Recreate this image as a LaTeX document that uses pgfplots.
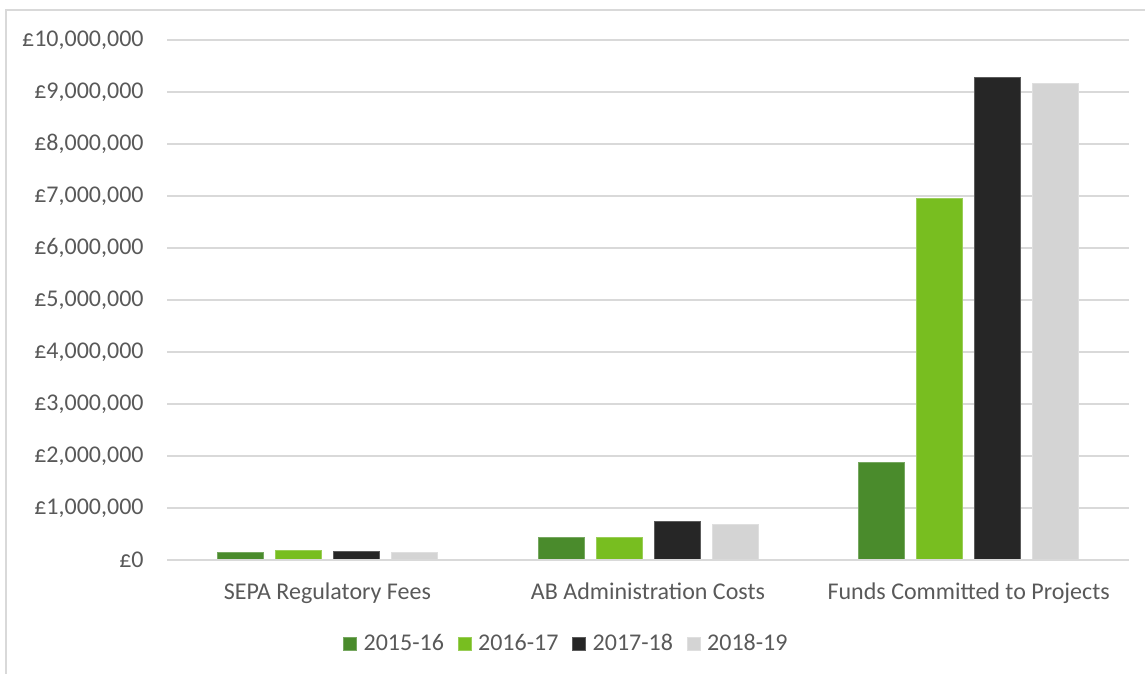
\documentclass[border=0pt]{standalone}
\usepackage{fontspec}
\setmainfont{Carlito}
\usepackage{pgfplots}
\pgfplotsset{compat=1.18}
\definecolor{gA}{HTML}{4A8B2C}
\definecolor{gB}{HTML}{78BE20}
\definecolor{gC}{HTML}{262626}
\definecolor{gD}{HTML}{D4D4D4}
\definecolor{txt}{HTML}{595959}
\definecolor{grd}{HTML}{D9D9D9}
\begin{document}
\fontsize{12}{14}\selectfont
\begin{tikzpicture}
\path[use as bounding box] (0,0) rectangle (572.5pt,337pt);
\draw[grd, line width=1pt] (2.75pt,0) -- (2.75pt,332pt) -- (572.5pt,332pt);
\begin{axis}[
  at={(83.5pt,57pt)}, anchor=south west,
  scale only axis, width=481pt, height=260pt,
  ybar=6pt, bar width=23pt,
  xmin=-0.5, xmax=2.5, ymin=0, ymax=10000000,
  xtick={0,1,2}, xticklabels={SEPA Regulatory Fees, AB Administration Costs, Funds Committed to Projects},
  ytick={0,1000000,...,10000000},
  scaled y ticks=false,
  yticklabel={£\pgfmathprintnumber[fixed,precision=0,1000 sep={,},assume math mode=true]{\tick}},
  yticklabel style={xshift=-7.5pt, text=txt},
  xticklabel style={yshift=-7pt, text=txt},
  major tick length=0pt,
  axis line style={draw=none},
  ymajorgrids, grid style={grd, line width=0.75pt},
  font=\fontsize{12}{14}\selectfont,
  legend columns=4,
  legend style={at={(0.4163,-0.1615)}, anchor=center, draw=none, fill=none,
    font=\fontsize{12}{14}\selectfont, text=txt,
    /tikz/every odd column/.append style={column sep=1.2pt},
    /tikz/every even column/.append style={column sep=5pt}},
  legend image code/.code={\fill[#1] (0pt,-3.25pt) rectangle (6.5pt,3.25pt);},
  legend cell align=left,
]
\addplot[fill=gA, draw=gA!75!white, line width=0.4pt] coordinates {(0,150000) (1,440000) (2,1880000)};
\addplot[fill=gB, draw=gB!75!white, line width=0.4pt] coordinates {(0,185000) (1,440000) (2,6960000)};
\addplot[fill=gC, draw=gC!75!white, line width=0.4pt] coordinates {(0,165000) (1,740000) (2,9280000)};
\addplot[fill=gD, draw=gD!75!white, line width=0.4pt] coordinates {(0,145000) (1,680000) (2,9170000)};
\draw[grd, line width=1.1pt] (rel axis cs:0,0) -- (rel axis cs:1,0);
\legend{2015-16, 2016-17, 2017-18, 2018-19}
\end{axis}
\end{tikzpicture}
\end{document}
